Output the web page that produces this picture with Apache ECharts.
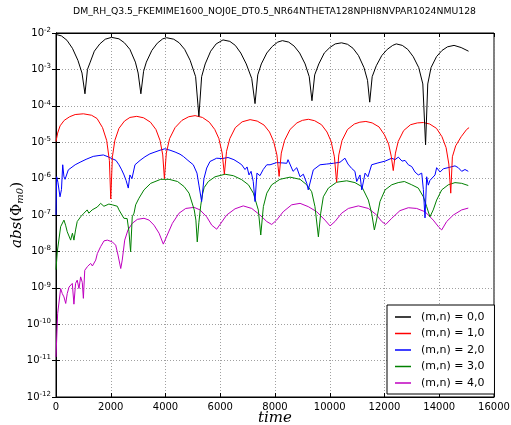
<!DOCTYPE html>
<html>
<head>
<meta charset="utf-8">
<script src="https://cdn.jsdelivr.net/npm/echarts@6/dist/echarts.min.js"></script>
<style>
  html, body { margin: 0; padding: 0; background: #fff; }
  #chart { width: 511px; height: 425px; }
</style>
</head>
<body>
<div id="chart"></div>
<script>
// values, stored as time and log10(abs(phi))
const t00 = [0, 200, 400, 600, 800, 950, 1058, 1150, 1250, 1400, 1600, 1800, 2030, 2300, 2500, 2700, 2900, 3000, 3100, 3200, 3300, 3500, 3700, 3900, 4040, 4300, 4500, 4700, 4900, 5100, 5220, 5320, 5450, 5650, 5850, 6100, 6350, 6550, 6750, 6950, 7150, 7270, 7370, 7500, 7700, 7900, 8100, 8270, 8500, 8700, 8900, 9100, 9250, 9350, 9450, 9600, 9800, 10000, 10200, 10430, 10650, 10850, 11050, 11250, 11380, 11460, 11550, 11700, 11900, 12100, 12300, 12430, 12650, 12850, 13050, 13250, 13400, 13500, 13580, 13700, 13900, 14100, 14300, 14540, 14800, 15070]
const log00 = [-2.04, -2.08, -2.2, -2.42, -2.75, -3.1, -3.67, -3.0, -2.8, -2.5, -2.3, -2.17, -2.12, -2.16, -2.27, -2.45, -2.8, -3.1, -3.67, -3.05, -2.8, -2.48, -2.28, -2.16, -2.13, -2.17, -2.27, -2.45, -2.75, -3.2, -4.29, -3.2, -2.85, -2.5, -2.3, -2.19, -2.23, -2.34, -2.55, -2.85, -3.25, -3.94, -3.15, -2.85, -2.55, -2.37, -2.25, -2.21, -2.25, -2.36, -2.55, -2.85, -3.2, -3.86, -3.15, -2.85, -2.55, -2.4, -2.3, -2.27, -2.31, -2.42, -2.62, -2.95, -3.3, -3.9, -3.2, -2.9, -2.62, -2.45, -2.34, -2.3, -2.34, -2.45, -2.65, -2.95, -3.4, -5.07, -3.4, -2.95, -2.65, -2.48, -2.38, -2.34, -2.4, -2.5]

const t10 = [0, 60, 150, 300, 500, 700, 1000, 1300, 1500, 1700, 1850, 1950, 2000, 2060, 2150, 2300, 2500, 2700, 2950, 3200, 3450, 3650, 3800, 3900, 3960, 4030, 4150, 4350, 4600, 4850, 5080, 5350, 5600, 5800, 5950, 6070, 6150, 6230, 6350, 6550, 6800, 7090, 7350, 7600, 7800, 7950, 8070, 8150, 8230, 8350, 8550, 8800, 9000, 9220, 9450, 9700, 9900, 10050, 10170, 10250, 10330, 10450, 10650, 10900, 11100, 11320, 11550, 11800, 12000, 12150, 12250, 12320, 12400, 12500, 12700, 12950, 13200, 13420, 13650, 13900, 14100, 14250, 14350, 14420, 14480, 14600, 14800, 15000, 15090]
const log10v = [-4.98, -4.75, -4.55, -4.4, -4.3, -4.24, -4.22, -4.26, -4.35, -4.6, -4.95, -5.5, -6.56, -5.4, -4.95, -4.62, -4.42, -4.32, -4.29, -4.33, -4.45, -4.65, -4.95, -5.35, -6.0, -5.3, -4.9, -4.6, -4.4, -4.3, -4.27, -4.32, -4.45, -4.65, -4.9, -5.3, -5.88, -5.25, -4.9, -4.6, -4.44, -4.38, -4.42, -4.53, -4.72, -4.98, -5.35, -5.94, -5.3, -4.95, -4.65, -4.47, -4.4, -4.37, -4.41, -4.52, -4.72, -4.98, -5.4, -6.1, -5.35, -4.95, -4.65, -4.5, -4.45, -4.43, -4.47, -4.58, -4.8, -5.05, -5.4, -5.78, -5.3, -4.98, -4.68, -4.52, -4.47, -4.46, -4.5, -4.62, -4.85, -5.15, -5.6, -6.4, -5.4, -5.1, -4.85, -4.65, -4.6]

const t20 = [0, 25, 70, 146, 200, 245, 290, 330, 450, 510, 700, 880, 1100, 1360, 1535, 1730, 1900, 2045, 2190, 2300, 2400, 2485, 2560, 2640, 2700, 2775, 2885, 3070, 3250, 3430, 3615, 3800, 3980, 4165, 4350, 4530, 4650, 4820, 5015, 5150, 5225, 5320, 5405, 5505, 5625, 5870, 6065, 6285, 6500, 6650, 6785, 6905, 6980, 7050, 7125, 7205, 7270, 7340, 7450, 7570, 7700, 7820, 8060, 8290, 8430, 8475, 8660, 8795, 8915, 9035, 9160, 9215, 9400, 9645, 9890, 10130, 10375, 10555, 10665, 10800, 10920, 10985, 11105, 11170, 11290, 11395, 11530, 11760, 12020, 12265, 12385, 12505, 12640, 12750, 12870, 12995, 13115, 13235, 13360, 13420, 13480, 13540, 13600, 13660, 13725, 13845, 13905, 14030, 14150, 14320, 14575, 14695, 14820, 14940, 15060]
const log20 = [-7.0, -5.95, -6.1, -6.5, -6.3, -5.62, -5.95, -6.02, -5.76, -5.72, -5.62, -5.55, -5.47, -5.39, -5.37, -5.35, -5.4, -5.45, -5.5, -5.62, -5.76, -5.9, -6.05, -6.26, -5.9, -6.0, -5.62, -5.5, -5.4, -5.32, -5.27, -5.22, -5.18, -5.22, -5.27, -5.33, -5.39, -5.5, -5.62, -5.85, -6.2, -6.63, -6.0, -5.71, -5.53, -5.44, -5.45, -5.42, -5.48, -5.55, -5.62, -5.75, -5.68, -5.9, -5.8, -6.08, -6.63, -5.85, -5.92, -5.75, -5.62, -5.62, -5.56, -5.57, -5.58, -5.48, -5.8, -5.7, -5.95, -5.88, -6.13, -6.31, -5.76, -5.62, -5.6, -5.58, -5.55, -5.44, -5.6, -5.72, -5.8, -6.08, -5.9, -6.31, -5.85, -5.95, -5.62, -5.57, -5.52, -5.44, -5.48, -5.41, -5.52, -5.5, -5.62, -5.67, -5.82, -5.9, -5.85, -6.3, -7.08, -5.95, -6.18, -6.05, -6.0, -5.9, -5.7, -5.82, -5.73, -5.7, -5.65, -5.7, -5.8, -5.75, -5.8]

const t30 = [0, 47, 170, 290, 350, 410, 535, 600, 655, 715, 775, 835, 900, 960, 1020, 1080, 1140, 1200, 1260, 1320, 1390, 1510, 1630, 1750, 1810, 1930, 2055, 2115, 2240, 2300, 2360, 2480, 2540, 2600, 2665, 2725, 2785, 2850, 2910, 3030, 3215, 3460, 3825, 4130, 4440, 4680, 4860, 5050, 5110, 5160, 5220, 5285, 5345, 5410, 5565, 5810, 6175, 6480, 6785, 7030, 7210, 7390, 7480, 7575, 7700, 7880, 8180, 8550, 8915, 9160, 9340, 9460, 9585, 9670, 9765, 9950, 10250, 10620, 10920, 11170, 11410, 11530, 11630, 11710, 11835, 12020, 12265, 12500, 12725, 12995, 13235, 13420, 13540, 13660, 13780, 13905, 14090, 14330, 14575, 14820, 15060]
const log30 = [-8.5, -8.01, -7.32, -7.14, -7.28, -7.46, -7.69, -7.5, -7.69, -7.41, -7.18, -7.22, -7.05, -7.1, -6.95, -7.0, -6.86, -6.95, -6.9, -6.86, -6.82, -6.78, -6.68, -6.76, -6.72, -6.7, -6.72, -6.7, -6.76, -6.86, -6.9, -7.09, -7.12, -7.1, -7.46, -8.01, -7.05, -6.95, -6.72, -6.54, -6.31, -6.13, -6.02, -6.02, -6.08, -6.22, -6.4, -6.86, -7.14, -7.74, -7.2, -6.75, -6.45, -6.25, -6.08, -5.95, -5.88, -5.92, -6.03, -6.17, -6.4, -6.86, -7.55, -6.77, -6.4, -6.17, -6.02, -5.96, -6.02, -6.17, -6.36, -6.77, -7.6, -6.95, -6.5, -6.26, -6.1, -6.06, -6.11, -6.22, -6.59, -6.95, -7.41, -7.14, -6.63, -6.31, -6.17, -6.11, -6.08, -6.17, -6.26, -6.5, -6.77, -7.05, -6.86, -6.59, -6.31, -6.17, -6.11, -6.13, -6.19]

const t40 = [0, 60, 110, 170, 230, 290, 355, 410, 475, 535, 595, 655, 715, 775, 840, 900, 960, 1000, 1050, 1145, 1265, 1330, 1450, 1510, 1630, 1755, 1875, 2060, 2180, 2265, 2365, 2420, 2510, 2630, 2785, 2970, 3215, 3400, 3580, 3765, 3920, 4065, 4250, 4495, 4740, 5045, 5260, 5505, 5690, 5870, 6235, 6540, 6840, 7150, 7450, 7700, 7880, 8060, 8300, 8610, 8915, 9215, 9525, 9825, 10010, 10190, 10435, 10680, 11045, 11410, 11715, 11900, 12045, 12265, 12565, 12870, 13175, 13480, 13780, 13990, 14090, 14270, 14515, 14820, 15060]
const log40 = [-10.9, -9.71, -9.66, -9.02, -9.16, -9.25, -9.43, -9.16, -8.98, -9.0, -8.88, -9.45, -8.88, -8.79, -9.02, -8.7, -8.85, -9.29, -8.52, -8.42, -8.33, -8.4, -8.24, -8.06, -7.87, -7.71, -7.69, -7.74, -7.83, -8.1, -8.47, -8.24, -7.69, -7.41, -7.23, -7.12, -7.09, -7.14, -7.28, -7.5, -7.8, -7.55, -7.23, -6.95, -6.82, -6.79, -6.86, -7.05, -7.28, -7.39, -7.0, -6.83, -6.75, -6.82, -7.0, -7.18, -7.26, -7.14, -6.91, -6.72, -6.68, -6.77, -6.91, -7.14, -7.3, -7.18, -6.95, -6.82, -6.75, -6.82, -7.0, -7.18, -7.26, -7.09, -6.88, -6.8, -6.82, -6.91, -7.14, -7.34, -7.41, -7.18, -7.0, -6.86, -6.81]

const names = ['(m,n) = 0,0', '(m,n) = 1,0', '(m,n) = 2,0', '(m,n) = 3,0', '(m,n) = 4,0']
const colors = ['#000000', '#ff0000', '#0000ff', '#008000', '#bf00bf']

function pairs (ts, logs) {
  return ts.map((t, i) => [t, Math.pow(10, logs[i])])
}

const chart = echarts.init(document.getElementById('chart'))
const txt = '#000'
const font = 'DejaVu Sans'
const allData = [pairs(t00, log00), pairs(t10, log10v), pairs(t20, log20), pairs(t30, log30), pairs(t40, log40)]

const yLabel = {
  fontSize: 10,
  color: txt,
  fontFamily: font,
  margin: 5,
  formatter: v => '10{s|' + Math.round(Math.log10(v)) + '}',
  rich: { s: { fontSize: 7, verticalAlign: 'top', padding: [0, 0, 6, 0], fontFamily: font, color: txt } }
}

chart.setOption({
  animation: false,
  backgroundColor: '#fff',
  title: {
    text: 'DM_RH_Q3.5_FKEMIME1600_NOJ0E_DT0.5_NR64NTHETA128NPHI8NVPAR1024NMU128',
    left: 73,
    top: 7,
    padding: 0,
    textStyle: { fontSize: 9.3, fontWeight: 'normal', color: txt, fontFamily: font }
  },
  grid: { left: 56, right: 17, top: 33, bottom: 28, containLabel: false, outerBoundsMode: 'none', show: true, borderColor: '#000', borderWidth: 1 },
  legend: {
    orient: 'vertical',
    left: 387,
    top: 305,
    data: names,
    icon: 'rect',
    itemWidth: 16,
    itemHeight: 1.5,
    itemGap: 2.5,
    padding: [5, 10, 4, 8],
    backgroundColor: '#fff',
    borderColor: '#000',
    borderWidth: 1,
    textStyle: { fontSize: 11, color: txt, fontFamily: font, lineHeight: 14, padding: [0, 0, 0, 5] }
  },
  xAxis: [{
    type: 'value',
    min: 0,
    max: 16000,
    interval: 2000,
    name: 'time',
    nameLocation: 'middle',
    nameGap: 14,
    nameMoveOverlap: false,
    nameTextStyle: { fontSize: 15, fontStyle: 'italic', fontFamily: 'DejaVu Serif', color: txt },
    axisLine: { lineStyle: { color: '#000' } },
    axisTick: { inside: true, length: 4, lineStyle: { color: '#000' } },
    axisLabel: { fontSize: 10, color: txt, fontFamily: font, margin: 5, formatter: v => String(v) },
    splitLine: { lineStyle: { color: '#888', type: [1, 2], width: 0.8 } }
  }, {
    type: 'value',
    position: 'top',
    min: 0,
    max: 16000,
    interval: 2000,
    axisLine: { lineStyle: { color: '#000' } },
    axisTick: { inside: true, length: 4, lineStyle: { color: '#000' } },
    axisLabel: { show: false },
    splitLine: { show: false }
  }],
  yAxis: [{
    type: 'log',
    logBase: 10,
    min: 1e-12,
    max: 1e-2,
    interval: 1,
    name: '{i|abs}({p|Φ}{sub|m0})',
    nameLocation: 'middle',
    nameRotate: 90,
    nameGap: 31,
    nameMoveOverlap: false,
    nameTextStyle: {
      fontSize: 15,
      color: txt,
      fontFamily: 'DejaVu Serif',
      rich: {
        i: { fontSize: 15, fontStyle: 'italic', fontFamily: 'DejaVu Serif', color: txt },
        p: { fontSize: 15, fontFamily: 'DejaVu Serif', color: txt },
        sub: { fontSize: 10, fontStyle: 'italic', fontFamily: 'DejaVu Serif', color: txt, verticalAlign: 'bottom', padding: [6, 0, 0, 0] }
      }
    },
    axisLine: { lineStyle: { color: '#000' } },
    axisTick: { inside: true, length: 4, lineStyle: { color: '#000' } },
    axisLabel: yLabel,
    splitLine: { lineStyle: { color: '#888', type: [1, 2], width: 0.8 } }
  }, {
    type: 'log',
    logBase: 10,
    min: 1e-12,
    max: 1e-2,
    interval: 1,
    position: 'right',
    axisLine: { lineStyle: { color: '#000' } },
    axisTick: { inside: true, length: 4, lineStyle: { color: '#000' } },
    axisLabel: { show: false },
    splitLine: { show: false }
  }],
  series: names.map((n, i) => ({
    name: n,
    type: 'line',
    data: allData[i],
    showSymbol: false,
    symbol: 'none',
    lineStyle: { width: 1, color: colors[i] },
    itemStyle: { color: colors[i] },
    z: 10 - i
  }))
})
</script>
</body>
</html>
